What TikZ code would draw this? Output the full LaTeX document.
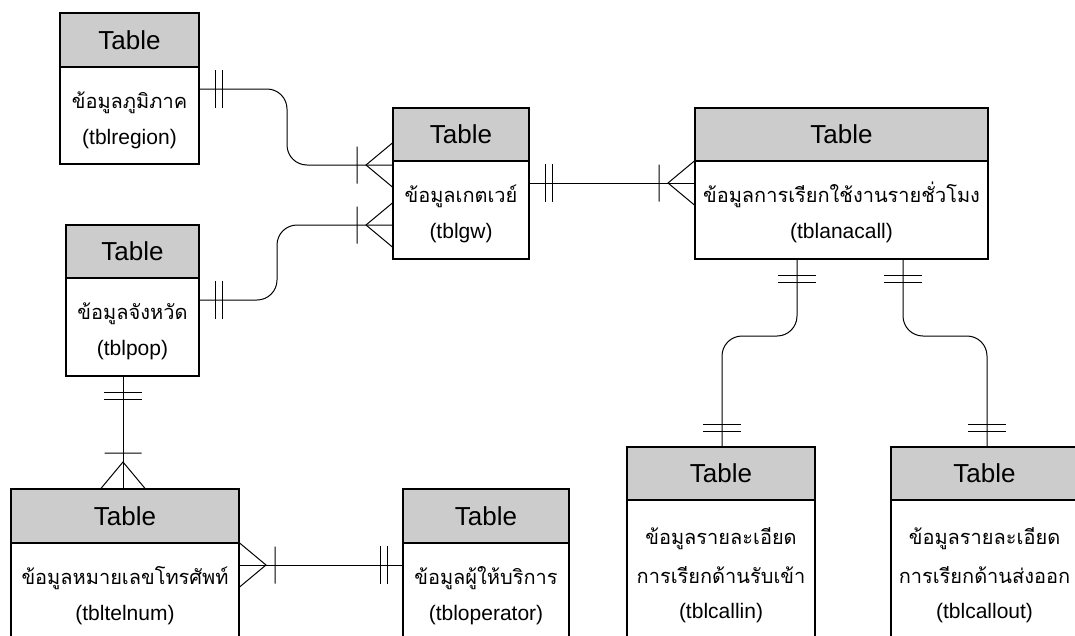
\documentclass[tikz,border=0pt]{standalone}
\usepackage{fontspec}
\setmainfont{Liberation Sans}
\newfontfamily\thaifont[Script=Thai]{Loma}
\definecolor{hdrgray}{RGB}{204,204,204}
\begin{document}
\begin{tikzpicture}[x=1pt,y=-1pt,
  tblhead/.style={draw=black,line width=1.5pt,fill=hdrgray,inner sep=0pt,outer sep=0pt,anchor=north west},
  tblbody/.style={draw=black,line width=1.5pt,fill=white,inner sep=0pt,outer sep=0pt,anchor=north west},
  headtxt/.style={font=\fontsize{26}{30}\selectfont,inner sep=0pt},
  thaitxt/.style={font={\thaifont\fontsize{20}{24}\selectfont},inner sep=0pt,anchor=base},
  lattxt/.style={font=\fontsize{21}{25}\selectfont,inner sep=0pt,anchor=base},
  conn/.style={draw=black,line width=1pt},
  onemark/.pic={\draw[line width=1pt] (16,-19) -- (16,19) (23,-19) -- (23,19);},
  manymark/.pic={\draw[line width=1pt] (0,-22.5) -- (27,0) -- (0,22.5) (36,-18.5) -- (36,18.5);}
]
\useasboundingbox (0,0) rectangle (1075,635);
\clip (0,0) rectangle (1075,635);

% ---- tables ----
% region
\node[tblbody,minimum width=139pt,minimum height=97pt] (regionB) at (60,67) {};
\node[tblhead,minimum width=139pt,minimum height=54pt] (regionH) at (60,13) {};
\node[headtxt] (regionT) at (regionH.center) {Table};
\node[thaitxt] (regionTh) at ([yshift=-41pt]regionB.north) {ข้อมูลภูมิภาค};
\node[lattxt] (regionL) at ([yshift=-77pt]regionB.north) {(tblregion)};
% gw
\node[tblbody,minimum width=136pt,minimum height=98pt] (gwB) at (393,161) {};
\node[tblhead,minimum width=136pt,minimum height=53pt] (gwH) at (393,108) {};
\node[headtxt] (gwT) at (gwH.center) {Table};
\node[thaitxt] (gwTh) at ([yshift=-41pt]gwB.north) {ข้อมูลเกตเวย์};
\node[lattxt] (gwL) at ([yshift=-77pt]gwB.north) {(tblgw)};
% anacall
\node[tblbody,minimum width=293pt,minimum height=98pt] (anaB) at (695,161) {};
\node[tblhead,minimum width=293pt,minimum height=53pt] (anaH) at (695,108) {};
\node[headtxt] (anaT) at (anaH.center) {Table};
\node[thaitxt] (anaTh) at ([yshift=-41pt]anaB.north) {ข้อมูลการเรียกใช้งานรายชั่วโมง};
\node[lattxt] (anaL) at ([yshift=-77pt]anaB.north) {(tblanacall)};
% pop
\node[tblbody,minimum width=133pt,minimum height=98pt] (popB) at (66,278) {};
\node[tblhead,minimum width=133pt,minimum height=53pt] (popH) at (66,225) {};
\node[headtxt] (popT) at (popH.center) {Table};
\node[thaitxt] (popTh) at ([yshift=-41pt]popB.north) {ข้อมูลจังหวัด};
\node[lattxt] (popL) at ([yshift=-77pt]popB.north) {(tblpop)};
% telnum
\node[tblbody,minimum width=228pt,minimum height=110pt] (telB) at (11,543) {};
\node[tblhead,minimum width=228pt,minimum height=54pt] (telH) at (11,489) {};
\node[headtxt] (telT) at (telH.center) {Table};
\node[thaitxt] (telTh) at ([yshift=-41pt]telB.north) {ข้อมูลหมายเลขโทรศัพท์};
\node[lattxt] (telL) at ([yshift=-77pt]telB.north) {(tbltelnum)};
% operator
\node[tblbody,minimum width=166pt,minimum height=110pt] (opB) at (403,543) {};
\node[tblhead,minimum width=166pt,minimum height=54pt] (opH) at (403,489) {};
\node[headtxt] (opT) at (opH.center) {Table};
\node[thaitxt] (opTh) at ([yshift=-41pt]opB.north) {ข้อมูลผู้ให้บริการ};
\node[lattxt] (opL) at ([yshift=-77pt]opB.north) {(tbloperator)};
% callin
\node[tblbody,minimum width=188pt,minimum height=150pt] (cinB) at (627,500) {};
\node[tblhead,minimum width=188pt,minimum height=53pt] (cinH) at (627,447) {};
\node[headtxt] (cinT) at (cinH.center) {Table};
\node[thaitxt] (cinTh1) at ([yshift=-44pt]cinB.north) {ข้อมูลรายละเอียด};
\node[thaitxt] (cinTh2) at ([yshift=-83pt]cinB.north) {การเรียกด้านรับเข้า};
\node[lattxt] (cinL) at ([yshift=-118pt]cinB.north) {(tblcallin)};
% callout
\node[tblbody,minimum width=187pt,minimum height=150pt] (coutB) at (891,500) {};
\node[tblhead,minimum width=187pt,minimum height=53pt] (coutH) at (891,447) {};
\node[headtxt] (coutT) at (coutH.center) {Table};
\node[thaitxt] (coutTh1) at ([yshift=-44pt]coutB.north) {ข้อมูลรายละเอียด};
\node[thaitxt] (coutTh2) at ([yshift=-83pt]coutB.north) {การเรียกด้านส่งออก};
\node[lattxt] (coutL) at ([yshift=-118pt]coutB.north) {(tblcallout)};

% ---- connector end points ----
\coordinate (r1) at ([yshift=-22pt]regionB.north east);
\coordinate (g1) at ([yshift=-4pt]gwB.north west);
\coordinate (p1) at ([yshift=-22pt]popB.north east);
\coordinate (g2) at ([yshift=-64pt]gwB.north west);
\coordinate (g3) at ([yshift=-22pt]gwB.north east);
\coordinate (a0) at ([yshift=-22pt]anaB.north west);
\coordinate (p2) at ([xshift=57pt]popB.south west);
\coordinate (t1) at ([xshift=112pt]telH.north west);
\coordinate (t2) at ([yshift=-22pt]telB.north east);
\coordinate (o1) at ([yshift=-22pt]opB.north west);
\coordinate (a1) at ([xshift=102pt]anaB.south west);
\coordinate (c1) at ([xshift=95pt]cinH.north west);
\coordinate (a2) at ([xshift=208pt]anaB.south west);
\coordinate (c2) at ([xshift=96pt]coutH.north west);

% ---- connectors ----
\draw[conn,rounded corners=20pt] (r1) -- ++(88,0) |- (g1);
\draw[conn,rounded corners=20pt] (p1) -- ++(78,0) |- (g2);
\draw[conn] (g3) -- (a0);
\draw[conn] (p2) -- (t1);
\draw[conn] (t2) -- (o1);
\draw[conn,rounded corners=20pt] (a1) -- ++(0,77) -| (c1);
\draw[conn,rounded corners=20pt] (a2) -- ++(0,77) -| (c2);

% ---- cardinality marks ----
\pic at (r1) {onemark};
\pic[rotate=180] at (g1) {manymark};
\pic at (p1) {onemark};
\pic[rotate=180] at (g2) {manymark};
\pic at (g3) {onemark};
\pic[rotate=180] at (a0) {manymark};
\pic[rotate=-90] at (p2) {onemark};
\pic[rotate=90] at (t1) {manymark};
\pic at (t2) {manymark};
\pic[rotate=180] at (o1) {onemark};
\pic[rotate=-90] at (a1) {onemark};
\pic[rotate=90] at (c1) {onemark};
\pic[rotate=-90] at (a2) {onemark};
\pic[rotate=90] at (c2) {onemark};
\end{tikzpicture}
\end{document}
